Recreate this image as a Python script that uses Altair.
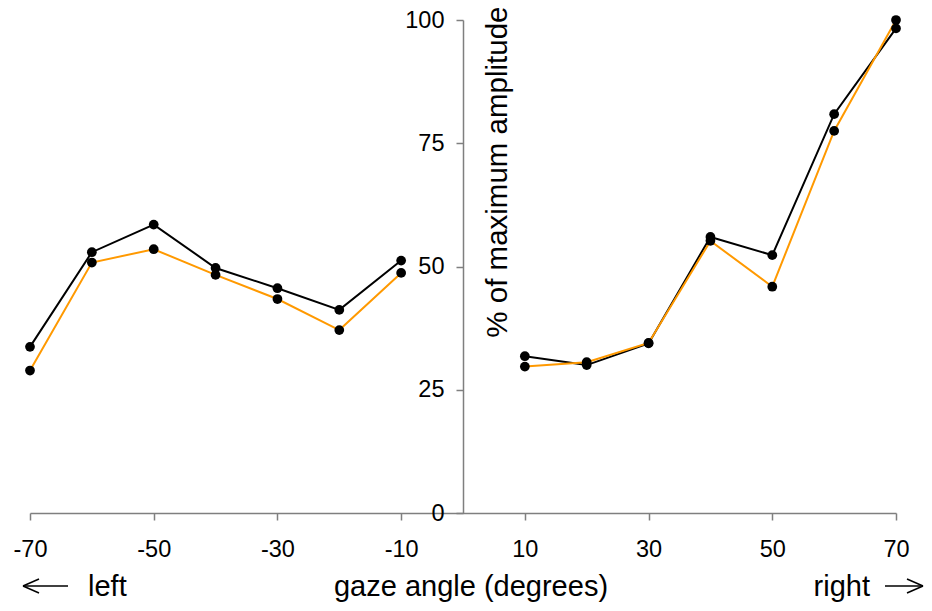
import altair as alt
import pandas as pd

# ---- data ----
angles = [-70, -60, -50, -40, -30, -20, -10, 10, 20, 30, 40, 50, 60, 70]
black_vals = [33.7, 52.9, 58.5, 49.7, 45.6, 41.2, 51.2, 31.8, 30.0, 34.4, 56.0, 52.3, 80.9, 98.3]
orange_vals = [28.9, 50.8, 53.5, 48.3, 43.4, 37.1, 48.7, 29.7, 30.6, 34.5, 55.2, 45.9, 77.5, 100.0]
x_ticks = [-70, -50, -30, -10, 10, 30, 50, 70]
y_ticks = [0, 25, 50, 75, 100]

FONT = "Liberation Sans"
GRAY = "#7f7f7f"

rows = []
for a, v in zip(angles, black_vals):
    rows.append({"angle": a, "value": v, "series": "black", "side": "left" if a < 0 else "right"})
for a, v in zip(angles, orange_vals):
    rows.append({"angle": a, "value": v, "series": "orange", "side": "left" if a < 0 else "right"})
df = pd.DataFrame(rows)
one = pd.DataFrame({"k": [0]})

W, H = 866, 493

x_enc = alt.X(
    "angle:Q",
    scale=alt.Scale(domain=[-70, 70], nice=False, zero=False),
    axis=alt.Axis(
        values=x_ticks, title=None, grid=False, labelFlush=False,
        labelExpr="'' + datum.value",
        labelFont=FONT, labelFontSize=23.5, labelColor="black", labelPadding=17,
        tickSize=7, tickColor=GRAY, tickWidth=1.5,
        domainColor=GRAY, domainWidth=1.5,
    ),
)
y_enc = alt.Y(
    "value:Q",
    scale=alt.Scale(domain=[0, 100], nice=False),
    axis=alt.Axis(
        values=y_ticks, orient="left", offset=-W / 2, grid=False,
        title="% of maximum amplitude", titleFont=FONT, titleFontSize=29.5,
        titleFontWeight="normal", titleColor="black", titleAngle=270,
        titleX=43, titleY=-14, titleAlign="right", titleBaseline="alphabetic",
        labelFont=FONT, labelFontSize=23.5, labelColor="black", labelPadding=12,
        tickSize=7, tickColor=GRAY, tickWidth=1.5,
        domainColor=GRAY, domainWidth=1.5,
    ),
)

black_line = alt.Chart(df[df.series == "black"]).mark_line(color="black", strokeWidth=2).encode(
    x=x_enc, y=y_enc, detail="side:N")
orange_line = alt.Chart(df[df.series == "orange"]).mark_line(color="#FF9900", strokeWidth=2).encode(
    x=x_enc, y=y_enc, detail="side:N")
points = alt.Chart(df).mark_circle(size=95, color="black", opacity=1).encode(x=x_enc, y=y_enc)


def label(text, px, py, align):
    return alt.Chart(one).mark_text(
        font=FONT, fontSize=29, color="black", align=align, baseline="alphabetic"
    ).encode(x=alt.value(px), y=alt.value(py), text=alt.value(text))


def seg(x1, y1, x2, y2):
    return alt.Chart(one).mark_rule(color="black", strokeWidth=1.5).encode(
        x=alt.value(x1), x2=alt.value(x2), y=alt.value(y1), y2=alt.value(y2))


ay = 566
ty = 576
annotations = [
    label("left", 58, ty, "left"),
    label("gaze angle (degrees)", 441, ty, "center"),
    label("right", 840, ty, "right"),
    seg(-7, ay, 38, ay), seg(-7, ay, 9, ay - 7), seg(-7, ay, 9, ay + 7),
    seg(855, ay, 893, ay), seg(893, ay, 877, ay - 7), seg(893, ay, 877, ay + 7),
]

chart = alt.layer(black_line, orange_line, points, *annotations).properties(
    width=W, height=H,
    autosize=alt.AutoSizeParams(type="none"),
    padding={"left": 22, "top": 12, "right": 28, "bottom": 90},
).configure_view(stroke=None)

chart.save("out.html", embed_options={"renderer": "svg", "actions": False})
